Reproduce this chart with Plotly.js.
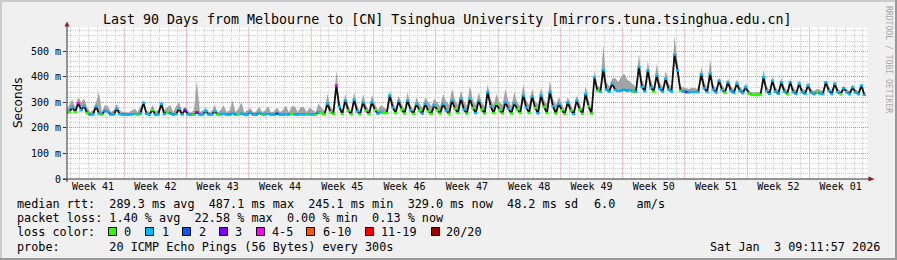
<!DOCTYPE html>
<html><head><meta charset="utf-8">
<script src="https://cdn.plot.ly/plotly-3.0.1.min.js"></script>
<style>html,body{margin:0;padding:0;background:#f0f0f0;}#chart{width:897px;height:260px;}</style>
</head><body><div id="chart"></div>
<script>
// ---------- data (median rtt & smoke top in ms, loss = lost pings of 20), samples every 8h ----------
const firstSample = '2025-10-05T12:00:00Z';
const stepHours = 8;
const med = [
  258,262, 280,262,297, 270,285,258, 252,253,284, 256,252,268, 262,252,253, 275,254,252,
  252,252,253, 255,252,256, 298,255,252, 270,252,253, 294,254,262, 256,252,254, 275,252,270,
  253,252,252, 261,252,253, 265,252,252, 265,252,253, 255,252,252, 258,252,253, 256,252,252,
  260,252,252, 258,252,253, 255,252,252, 256,252,252, 254,252,255, 253,252,254, 253,252,254,
  253,252,262, 258,253,295, 262,255,366, 282,254,307, 268,253,310, 265,253,300, 268,254,300,
  270,256,262, 258,258,327, 280,258,305, 272,256,307, 270,255,294, 268,256,294, 265,255,288,
  270,256,294, 268,255,307, 275,258,314, 272,256,314, 278,258,307, 272,256,340, 285,258,294,
  270,256,300, 275,256,297, 272,258,327, 280,258,323, 278,257,327, 282,258,340, 285,256,294,
  270,254,300, 268,254,307, 272,255,333, 285,256,398, 345,342,427, 350,342,373, 348,344,346,
  350,345,348, 342,342,438, 360,343,425, 358,342,405, 352,342,392, 350,343,487, 425,345,342,
  340,339,341, 340,340,410, 355,340,412, 350,339,385, 348,338,379, 345,337,373, 345,336,359,
  335,330,329, 328,330,398, 345,333,385, 342,334,379, 342,333,379, 340,333,373, 340,333,366,
  338,332,340, 335,332,379, 345,333,373, 340,332,355, 340,332,359, 338,332,366, 329
];
const hi = [
  268,290, 312,280,320, 300,315,280, 262,270,300, 340,262,290, 285,262,270, 295,268,262,
  262,260,268, 275,262,285, 305,268,262, 290,265,270, 307,270,280, 290,262,285, 300,262,285,
  265,260,270, 385,262,268, 280,262,265, 290,260,270, 288,262,268, 307,262,275, 300,260,270,
  278,260,265, 282,262,268, 285,260,265, 280,262,270, 288,260,285, 284,262,282, 282,262,280,
  270,262,295, 280,265,334, 285,270,425, 300,268,333, 290,265,340, 288,265,333, 290,268,330,
  295,270,290, 280,272,346, 305,275,327, 295,272,340, 290,270,320, 295,280,320, 300,285,314,
  300,285,333, 305,290,353, 310,290,346, 305,285,366, 310,290,340, 300,285,372, 315,290,333,
  300,290,353, 305,285,340, 300,285,372, 310,290,353, 305,292,359, 310,295,386, 315,290,320,
  295,270,320, 290,268,327, 295,270,366, 310,272,425, 365,360,529, 380,362,392, 395,380,400,
  413,390,380, 370,360,490, 390,362,464, 385,360,451, 380,358,425, 375,360,560, 470,365,358,
  355,352,358, 355,352,440, 380,355,470, 372,352,398, 370,350,393, 365,350,390, 362,348,375,
  348,340,340, 340,342,431, 365,345,400, 360,346,395, 360,345,392, 358,345,388, 355,345,380,
  352,344,352, 350,344,382, 362,345,385, 355,344,365, 352,344,370, 350,344,375, 340
];
const loss = [
  1,0, 1,0,4, 1,1,0, 1,1,1, 1,0,1, 1,1,1, 1,1,1,
  1,1,1, 1,0,1, 1,1,1, 0,1,1, 1,1,0, 1,1,1, 1,1,3,
  1,1,0, 3,1,1, 1,1,1, 1,0,1, 1,1,1, 1,1,0, 1,1,1,
  1,1,1, 1,0,1, 1,1,1, 2,1,1, 1,1,0, 1,1,1, 1,0,1,
  1,0,1, 0,0,1, 0,0,4, 1,0,1, 0,0,1, 1,0,1, 0,0,1,
  0,1,1, 0,0,1, 1,0,1, 0,0,1, 1,0,1, 0,1,1, 0,0,1,
  0,0,1, 1,0,1, 0,0,1, 1,0,1, 0,1,1, 0,0,1, 1,0,0,
  0,0,1, 1,0,1, 0,0,1, 1,0,1, 0,1,1, 0,0,1, 1,0,1,
  0,0,1, 0,1,1, 0,0,1, 0,0,1, 0,1,1, 1,1,1, 1,1,1,
  1,1,1, 0,1,1, 1,1,1, 1,0,1, 1,1,1, 1,1,1, 1,0,1,
  3,1,1, 1,1,1, 1,1,1, 1,1,1, 1,0,1, 1,1,1, 1,1,1,
  0,0,0, 0,0,1, 1,1,1, 1,1,1, 1,0,1, 1,1,1, 1,1,1,
  1,1,0, 1,1,1, 1,1,1, 1,0,1, 1,1,1, 1,1,1, 1
];
const xRange = ['2025-10-05 13:42', '2026-01-03 13:42'];
const weekStarts = ['2025-10-12','2025-10-19','2025-10-26','2025-11-02','2025-11-09','2025-11-16',
  '2025-11-23','2025-11-30','2025-12-07','2025-12-14','2025-12-21','2025-12-28'];
const weekLabelPos = ['2025-10-08 12:00','2025-10-15 12:00','2025-10-22 12:00','2025-10-29 12:00',
  '2025-11-05 12:00','2025-11-12 12:00','2025-11-19 12:00','2025-11-26 12:00','2025-12-03 12:00',
  '2025-12-10 12:00','2025-12-17 12:00','2025-12-24 12:00','2025-12-31 12:00'];
const weekLabels = ['Week 41','Week 42','Week 43','Week 44','Week 45','Week 46','Week 47',
  'Week 48','Week 49','Week 50','Week 51','Week 52','Week 01'];
const yTickVals = [0,100,200,300,400,500];
const yTickText = ['0','100 m','200 m','300 m','400 m','500 m'];
const lossLabels = ['0','1','2','3','4-5','6-10','11-19','20/20'];
const lossColors = ['#26ff00','#00b8ff','#0059ff','#7e00ff','#ff00ff','#ff5500','#ff0000','#a10000'];
const titleText = 'Last 90 Days from Melbourne to [CN] Tsinghua University [mirrors.tuna.tsinghua.edu.cn]';
const statsRtt = 'median rtt:  289.3 ms avg  487.1 ms max  245.1 ms min  329.0 ms now  48.2 ms sd';
const statsAms = '6.0   am/s';
const statsLoss = 'packet loss: 1.40 % avg  22.58 % max  0.00 % min  0.13 % now';
const probeText = 'probe:       20 ICMP Echo Pings (56 Bytes) every 300s';
const dateText = 'Sat Jan  3 09:11:57 2026';

// ---------- build ----------
const t0 = Date.parse(firstSample);
const xs = med.map((_, i) => new Date(t0 + i * stepHours * 3600e3).toISOString().slice(0, 19).replace('T', ' '));
function lossClass(n){ if(n<=3) return n; if(n<=5) return 4; if(n<=10) return 5; if(n<=19) return 6; return 7; }
const ptColors = loss.map(n => lossColors[lossClass(n)]);

const L = 67, T = 27, R = 868, B = 179, W = R - L, H = B - T;
const px = p => (p - L) / W, py = p => (B - p) / H;
const mono = 'DejaVu Sans Mono';
const nb = s => s.replace(/ /g, '\u00a0');
function txt(x, y, s, o){
  return Object.assign({xref:'paper', yref:'paper', x:px(x), y:py(y), text:nb(s), showarrow:false,
    xanchor:'left', yanchor:'middle', borderpad:0, font:{family:mono, size:11.8, color:'#000'}}, o || {});
}
function rect(x0, y0, x1, y1, fill, line){
  return {type:'rect', xref:'paper', yref:'paper', x0:px(x0), x1:px(x1), y0:py(y0), y1:py(y1),
    fillcolor:fill, line: line || {width:0}, layer:'above'};
}

const traces = [
  {x:xs, y:med, mode:'lines', line:{width:0, color:'rgba(0,0,0,0)'}, hoverinfo:'skip'},
  {x:xs, y:hi, mode:'lines', fill:'tonexty', fillcolor:'#a4a4a4', line:{width:0, color:'rgba(0,0,0,0)'}, hoverinfo:'skip'},
  {x:xs, y:med, mode:'lines', line:{width:1.8, color:'#111'}, hoverinfo:'skip'},
  {x:xs, y:med, mode:'markers', marker:{symbol:'line-ew', size:2.4, line:{width:2.4, color:ptColors}}, hoverinfo:'skip'}
];

const shapes = [];
weekStarts.forEach(d => shapes.push({type:'line', xref:'x', yref:'paper', x0:d, x1:d, y0:0, y1:1,
  line:{color:'rgba(245,120,120,0.5)', width:1, dash:'1px,1px'}, layer:'between'}));
// axes and arrows
shapes.push({type:'line', xref:'paper', yref:'paper', x0:px(63), x1:px(869), y0:py(179), y1:py(179), line:{color:'#303030', width:1}, layer:'above'});
shapes.push({type:'line', xref:'paper', yref:'paper', x0:px(67), x1:px(67), y0:py(182), y1:py(25), line:{color:'#303030', width:1}, layer:'above'});
shapes.push({type:'path', xref:'paper', yref:'paper', layer:'above', fillcolor:'#8b1a1a', line:{width:0},
  path:`M${px(67)},${py(21.5)} L${px(64.5)},${py(26.5)} L${px(69.5)},${py(26.5)} Z`});
shapes.push({type:'path', xref:'paper', yref:'paper', layer:'above', fillcolor:'#8b1a1a', line:{width:0},
  path:`M${px(874.5)},${py(179)} L${px(868.5)},${py(176.5)} L${px(868.5)},${py(181.5)} Z`});
// frame
shapes.push(rect(0, 0, 897, 2, '#cbcbcb'));
shapes.push(rect(0, 0, 2, 260, '#cbcbcb'));
shapes.push(rect(0, 258, 897, 260, '#999999'));
shapes.push(rect(895, 0, 897, 260, '#999999'));
// loss colour boxes
const boxX = [108.5, 145.5, 182.5, 219.5, 256.5, 306.5, 365.5, 431.5];
const boxLabelX = [122.7, 161.1, 197.7, 234.4, 271.1, 321.7, 380.4, 445.4];
boxX.forEach((bx, i) => shapes.push(rect(bx, 227.5, bx + 8, 235.5, lossColors[i], {color:'#000', width:1})));

const annotations = [
  txt(447, 19, titleText, {xanchor:'center', font:{family:mono, size:13.3, color:'#000'}}),
  txt(18, 103, 'Seconds', {xanchor:'center', textangle:-90, font:{family:'DejaVu Sans', size:12, color:'#000'}}),
  txt(889, 59, 'RRDTOOL / TOBI OETIKER', {xanchor:'center', textangle:90, font:{family:mono, size:8.1, color:'#a8a8a8'}}),
  txt(16, 203.5, statsRtt),
  txt(592.7, 203.5, statsAms),
  txt(16, 218, statsLoss),
  txt(16, 232, 'loss color:'),
  txt(16, 246.5, probeText),
  txt(881, 246.5, dateText, {xanchor:'right'})
];
lossLabels.forEach((s, i) => annotations.push(txt(boxLabelX[i], 232, s)));

const layout = {
  width:897, height:260, margin:{l:L, r:897 - R, t:T, b:260 - B, pad:0},
  paper_bgcolor:'#f0f0f0', plot_bgcolor:'#ffffff', showlegend:false,
  xaxis:{type:'date', range:xRange, tickmode:'array', tickvals:weekLabelPos, ticktext:weekLabels,
    showgrid:false, zeroline:false, showline:false, ticks:'', tickfont:{family:mono, size:10, color:'#000'},
    minor:{tickmode:'linear', tick0:'2025-10-05', dtick:86400000, showgrid:true, gridcolor:'#cdcdcd', griddash:'1px,1px', gridwidth:1, ticks:''},
    fixedrange:true},
  yaxis:{range:[0, 595], tickmode:'array', tickvals:yTickVals, ticktext:yTickText,
    showgrid:true, gridcolor:'rgba(235,90,90,0.65)', griddash:'1px,1px', gridwidth:1, zeroline:false, showline:false,
    ticks:'outside', ticklen:3, tickcolor:'#303030', tickfont:{family:mono, size:10, color:'#000'},
    minor:{tickmode:'linear', tick0:0, dtick:20, showgrid:true, gridcolor:'#cdcdcd', griddash:'1px,1px', gridwidth:1, ticks:''},
    fixedrange:true},
  shapes:shapes, annotations:annotations
};
Plotly.newPlot('chart', traces, layout, {displayModeBar:false, staticPlot:true});
</script></body></html>
